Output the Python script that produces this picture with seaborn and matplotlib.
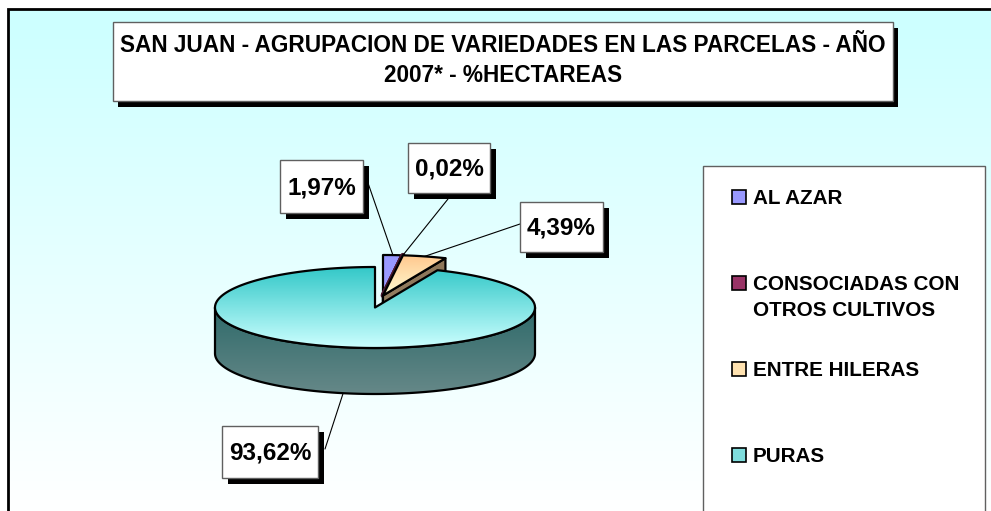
import numpy as np
import matplotlib
matplotlib.use("Agg")
import matplotlib.pyplot as plt
from matplotlib.patches import Polygon, Rectangle
import seaborn as sns

# -----------------------------
# datos
# -----------------------------
categories = ["AL AZAR", "CONSOCIADAS CON\nOTROS CULTIVOS", "ENTRE HILERAS", "PURAS"]
shares = [1.97, 0.02, 4.39, 93.62]
pct_labels = ["1,97%", "0,02%", "4,39%", "93,62%"]
exploded = [True, True, True, False]
title_lines = ["SAN JUAN - AGRUPACION DE VARIEDADES EN LAS PARCELAS - AÑO",
               "2007* - %HECTAREAS"]

# colores (cara superior arriba/abajo, cara lateral)
top_colors = [("#9999FF", "#9999FF"), ("#993366", "#993366"),
              ("#FFC68C", "#FFFCD2"), ("#33C8C8", "#CCFFFF")]
side_colors = [("#5C5C99", "#5C5C99"), ("#5C1F3D", "#5C1F3D"),
               ("#8C7558", "#9A8669"), ("#2E6A6A", "#668888")]
legend_colors = ["#9999FF", "#993366", "#FFE2B0", "#7FDDDD"]

sns.set_theme(style="white")
plt.rcParams["font.family"] = ["Liberation Sans", "DejaVu Sans"]

W, H = 991, 511
fig = plt.figure(figsize=(W / 100, H / 100), dpi=100)
ax = fig.add_axes([0, 0, 1, 1])


def grad_fill(xy, c_top, c_bot, y_top, y_bot, z, lw=1.6, ec="black"):
    cmap = sns.blend_palette([c_top, c_bot], as_cmap=True)
    g = np.linspace(0, 1, 256).reshape(-1, 1)
    x0, x1 = xy[:, 0].min() - 2, xy[:, 0].max() + 2
    im = ax.imshow(g, cmap=cmap, extent=(x0, x1, y_bot, y_top), aspect="auto",
                   interpolation="bilinear", zorder=z)
    patch = Polygon(xy, closed=True, fc="none", ec=ec, lw=lw, zorder=z + 0.05,
                    joinstyle="round")
    ax.add_patch(patch)
    im.set_clip_path(patch)


# -----------------------------
# fondo y marco (solo bordes izquierdo y superior visibles)
# -----------------------------
bg = sns.blend_palette(["#CCFFFF", "#FFFFFF"], as_cmap=True)
ax.imshow(np.linspace(0, 1, 256).reshape(-1, 1), cmap=bg,
          extent=(8, W, H, 9), aspect="auto", zorder=0)
ax.plot([8, 8, W], [H, 9, 9], color="black", lw=2, zorder=1,
        solid_joinstyle="miter")

# -----------------------------
# torta 3D
# -----------------------------
cx, cy, rx, ry, depth = 375, 307.5, 160, 40.5, 46
shift = (8, -12)
bounds = np.concatenate([[0], np.cumsum(shares)]) / 100 * 360


def rim(theta, x0, y0, drop=0.0):
    t = np.radians(np.atleast_1d(theta))
    return np.column_stack([x0 + rx * np.sin(t), y0 - ry * np.cos(t) + drop])


anchors = []
for i, share in enumerate(shares):
    a0, a1 = bounds[i], bounds[i + 1]
    x0, y0 = (cx + shift[0], cy + shift[1]) if exploded[i] else (cx, cy)
    z = 2 + i * 0.5 if exploded[i] else 5
    arc = np.linspace(a0, a1, max(int((a1 - a0) * 2), 3))
    apex = np.array([[x0, y0]])

    # cara de corte final
    if exploded[i]:
        e = rim(a1, x0, y0)
        face = np.vstack([apex, e, e + [0, depth], apex + [0, depth]])
        grad_fill(face, side_colors[i][0], side_colors[i][1],
                  face[:, 1].min(), face[:, 1].max(), z)

    # lateral visible (frente)
    s0, s1 = max(a0, 90), min(a1, 270)
    if s1 > s0:
        sa = np.linspace(s0, s1, 200)
        side = np.vstack([rim(sa, x0, y0), rim(sa[::-1], x0, y0, depth)])
        grad_fill(side, side_colors[i][0], side_colors[i][1],
                  y0, y0 + ry + depth, z)

    # cara superior
    top = np.vstack([apex, rim(arc, x0, y0)])
    ec = "#4A1830" if share < 0.1 else "black"
    lw = 3.5 if share < 0.1 else 1.6
    grad_fill(top, top_colors[i][0], top_colors[i][1],
              y0 - ry, y0 + (ry if s1 > s0 else 0), z + 0.2, lw=lw, ec=ec)

    mid = (a0 + a1) / 2
    anchors.append(rim(mid, x0, y0, depth if s1 > s0 else 0)[0])

# -----------------------------
# etiquetas con sombra
# -----------------------------
label_boxes = [(280, 160, 363, 213), (408, 143, 490, 193),
               (520, 202, 603, 252), (222, 426, 318, 478)]
leader_from = [(368, 183), (448, 199), (520, 224), (325, 449)]

for lab, box, p, q in zip(pct_labels, label_boxes, leader_from, anchors):
    ax.plot([p[0], q[0]], [p[1], q[1]], color="black", lw=0.8, zorder=7)
    bx0, by0, bx1, by1 = box
    ax.add_patch(Rectangle((bx0 + 6, by0 + 6), bx1 - bx0, by1 - by0,
                           fc="black", ec="none", zorder=8))
    ax.add_patch(Rectangle((bx0, by0), bx1 - bx0, by1 - by0,
                           fc="white", ec="#606060", lw=1, zorder=8.1))
    ax.text((bx0 + bx1) / 2, (by0 + by1) / 2 + 1, lab, ha="center", va="center",
            fontsize=17.5, fontweight="bold", color="black", zorder=8.2)

# -----------------------------
# titulo
# -----------------------------
ax.add_patch(Rectangle((118, 28), 780, 79, fc="black", ec="none", zorder=8))
ax.add_patch(Rectangle((113, 22), 780, 79, fc="white", ec="#606060", lw=1,
                       zorder=8.1))
for k, line in enumerate(title_lines):
    ax.text(503, 45 + k * 31, line, ha="center", va="center", fontsize=16.3,
            fontweight="bold", color="black", zorder=8.2)

# -----------------------------
# leyenda
# -----------------------------
ax.add_patch(Rectangle((703, 166), 282, 360, fc="white", ec="#606060", lw=1,
                       zorder=8))
for k, (name, col) in enumerate(zip(categories, legend_colors)):
    yc = 197 + k * 86
    ax.add_patch(Rectangle((732, yc - 7), 14, 14, fc=col, ec="black", lw=1.2,
                           zorder=8.1))
    for j, part in enumerate(name.split("\n")):
        ax.text(753, yc + j * 27 + 1, part, ha="left", va="center", fontsize=14.9,
                fontweight="bold", color="black", zorder=8.2)

ax.set_xlim(0, W)
ax.set_ylim(H, 0)
ax.axis("off")
fig.savefig("out.png", dpi=100)
